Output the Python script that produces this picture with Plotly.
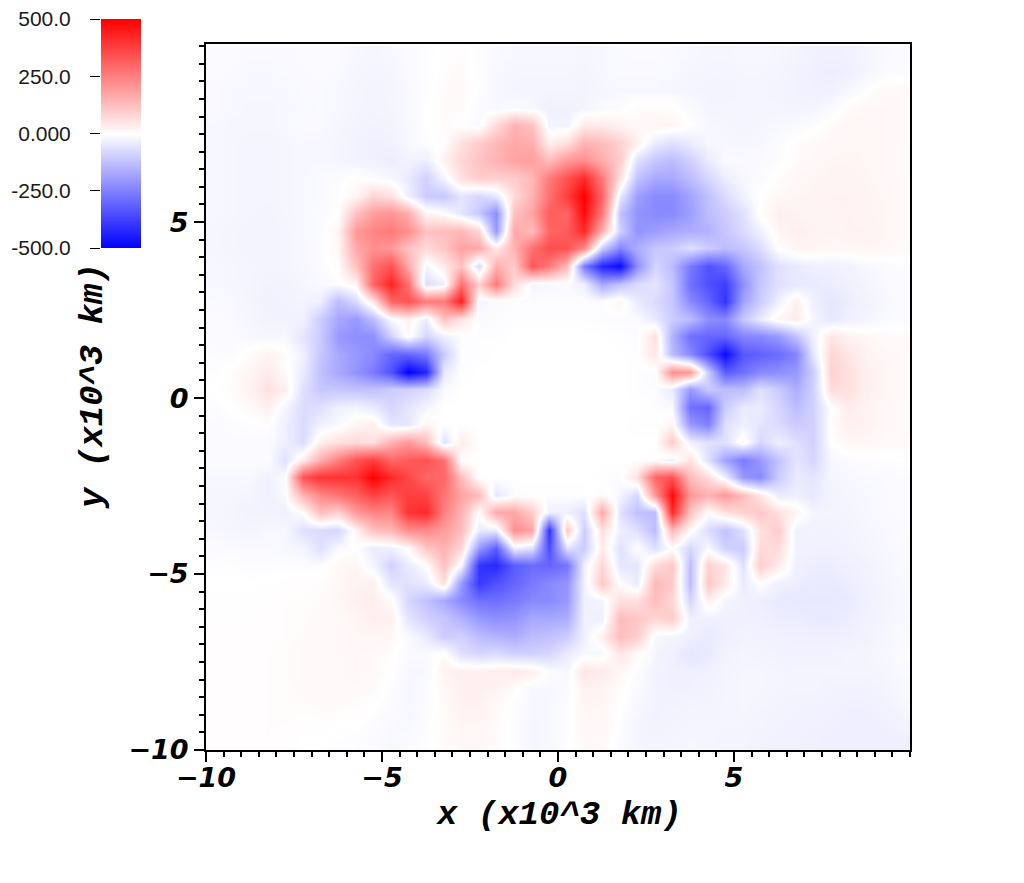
import plotly.graph_objects as go

x_centers = [-9.75, -9.25, -8.75, -8.25, -7.75, -7.25, -6.75, -6.25, -5.75, -5.25,
             -4.75, -4.25, -3.75, -3.25, -2.75, -2.25, -1.75, -1.25, -0.75, -0.25,
             0.25, 0.75, 1.25, 1.75, 2.25, 2.75, 3.25, 3.75, 4.25, 4.75,
             5.25, 5.75, 6.25, 6.75, 7.25, 7.75, 8.25, 8.75, 9.25, 9.75]
y_centers = x_centers[::-1]

# values, top row first
z_rows = [
    [-8,-10,-12,-12,-12,-10,-8,-10,-15,-18,-15,-10,-5,3,5,-5,-12,-15,-15,-15,-15,-18,-15,-12,-10,-10,-12,-15,-18,-18,-15,-15,-18,-22,-28,-30,-28,-20,-12,-8],
    [-10,-12,-15,-15,-12,-12,-10,-12,-18,-20,-18,-10,-5,5,8,-5,-15,-18,-18,-18,-18,-20,-15,-12,-12,-12,-15,-18,-20,-20,-18,-18,-20,-25,-30,-35,-32,-20,-10,-5],
    [-12,-15,-15,-15,-15,-12,-12,-15,-20,-22,-20,-12,-5,8,10,-5,-15,-20,-20,-20,-20,-22,-18,-15,-15,-15,-18,-20,-22,-22,-20,-20,-22,-25,-28,-28,-15,0,12,12],
    [-12,-15,-18,-18,-15,-15,-12,-15,-20,-22,-20,-12,0,8,5,-8,-15,-10,-15,-30,-30,-20,-12,-5,8,10,5,-10,-20,-20,-20,-20,-20,-22,-20,-10,8,15,15,12],
    [-15,-18,-18,-18,-15,-12,-12,-18,-22,-25,-22,-15,0,8,0,-10,70,150,120,-20,-25,40,40,25,10,20,20,0,-15,-18,-20,-18,-15,-12,-5,10,18,18,15,12],
    [-15,-18,-20,-20,-18,-15,-15,-20,-25,-30,-28,-15,-5,5,60,100,140,170,160,30,60,150,130,90,30,-40,-60,-40,-15,-15,-18,-15,-8,5,10,15,18,18,15,10],
    [-15,-18,-20,-20,-18,-15,-15,-20,-25,-30,-35,-25,-35,25,80,120,150,180,190,130,200,220,160,100,-60,-110,-130,-90,-40,-10,-12,-12,-5,8,15,20,20,18,15,10],
    [-15,-18,-20,-20,-18,-15,-12,-5,5,-5,-15,-40,-90,-20,60,100,90,100,140,260,340,420,260,60,-120,-170,-170,-130,-80,-35,-15,-8,5,15,20,22,22,20,15,10],
    [-15,-18,-20,-20,-18,-15,-12,-5,20,80,60,-30,-100,-110,-50,-80,-50,70,150,280,380,500,300,-40,-190,-230,-230,-180,-120,-70,-25,0,15,20,22,25,25,22,18,12],
    [-15,-18,-20,-22,-18,-15,-10,0,120,190,210,160,20,0,-50,-110,-220,120,180,320,300,480,260,-120,-210,-230,-230,-190,-130,-100,-60,5,30,25,20,22,25,22,18,12],
    [-18,-20,-22,-22,-20,-15,-10,20,200,240,260,220,120,130,140,80,-200,170,130,300,320,420,150,-90,-210,-190,-170,-160,-150,-110,-70,-30,20,30,25,22,25,25,20,12],
    [-18,-20,-22,-22,-20,-15,-8,15,170,220,200,120,70,110,180,170,40,150,280,350,340,230,-100,-240,-160,-110,-100,-60,-100,-130,-110,-70,0,20,20,15,15,18,15,10],
    [-15,-18,-20,-22,-20,-15,-8,5,120,280,340,170,-20,40,120,-80,160,100,330,260,130,-260,-430,-480,-220,-80,-130,-260,-340,-300,-170,-120,-60,-40,-30,-30,-25,-15,-10,-5],
    [-15,-18,-20,-25,-22,-18,-12,-5,20,300,430,280,-70,-30,280,90,260,70,-20,-15,-10,-30,-170,-120,-70,-50,-110,-280,-340,-380,-220,-110,-60,-45,-40,-35,-30,-20,-12,-8],
    [-12,-15,-20,-28,-25,-22,-30,-130,-70,50,300,340,260,260,440,-20,-8,-5,-5,-5,-5,-5,-5,20,-40,-70,-110,-230,-300,-400,-180,-100,-30,30,-30,-50,-35,-25,-15,-10],
    [-10,-12,-18,-25,-25,-28,-100,-170,-200,-130,-10,30,-40,120,50,-8,-5,-3,-3,-3,-3,-3,-5,-8,-8,-40,-100,-130,-220,-230,-110,-40,20,40,-20,-45,-30,-20,-12,-8],
    [-8,-10,-15,-18,-15,-50,-100,-200,-220,-220,-90,10,-80,-30,-5,-3,-3,0,0,0,0,0,0,-3,-5,60,-150,-280,-300,-300,-240,-230,-200,-120,-30,50,25,15,10,8],
    [-5,-8,8,25,5,-30,-110,-170,-200,-230,-300,-300,-260,-100,-5,-3,0,0,0,0,0,0,0,0,-3,50,-130,-230,-350,-480,-330,-310,-290,-240,-50,80,50,25,15,10],
    [-3,5,20,40,10,-40,-120,-170,-210,-260,-340,-500,-430,-40,-3,0,0,0,0,0,0,0,0,0,-3,-10,220,200,-100,-320,-280,-230,-220,-200,-100,90,60,30,20,12],
    [0,8,25,60,30,-60,-110,-110,-120,-120,-100,-90,-70,-10,0,0,0,0,0,0,0,0,0,0,-3,-5,-40,-200,-100,-130,-130,-60,-100,-160,-90,70,60,30,20,12],
    [-5,0,10,30,-20,-70,-60,-30,-20,-40,-80,-50,-20,0,0,0,0,0,0,0,0,0,0,0,0,-3,-10,-280,-300,-100,-40,-40,-80,-130,-90,0,40,25,15,10],
    [-8,-5,-3,0,-30,-70,-30,-10,20,30,-50,-50,20,0,0,0,0,0,0,0,0,0,0,0,-3,-3,20,-200,-250,-60,-30,-50,-70,-100,-90,5,30,25,15,10],
    [-10,-8,-8,-10,-30,-70,30,60,70,60,150,200,130,-60,40,0,0,0,0,0,0,0,0,0,0,0,100,-30,-60,-60,20,-80,-30,-60,-90,0,15,15,10,8],
    [-8,-8,-8,-5,-60,40,160,250,340,380,300,320,340,280,-3,0,0,0,0,0,0,0,0,0,0,-3,-30,60,-60,-180,-260,-200,-120,-50,-80,-15,-10,-5,-3,0],
    [-15,-15,-15,-30,-5,340,400,400,400,500,420,360,300,300,130,-3,0,0,0,0,0,0,-3,-5,60,300,340,130,70,-30,-200,-230,-100,-40,-50,-18,-15,-12,-10,-8],
    [-18,-18,-20,-30,-10,150,230,270,310,370,330,380,370,270,180,130,-50,-5,-3,-3,-3,-3,10,-20,-80,200,480,200,150,200,130,50,-40,-30,-45,-22,-18,-15,-12,-10],
    [-18,-20,-25,-25,-30,0,130,90,200,240,240,400,420,250,150,0,170,170,100,-30,-30,-60,170,-60,-120,-130,420,120,0,60,90,110,60,20,-20,-22,-20,-15,-12,-10],
    [-15,-18,-20,-15,-15,-60,-70,-80,20,120,140,220,230,190,130,-40,-40,220,180,-400,110,-100,60,-30,-60,-130,140,10,-70,-120,-60,60,100,-30,-25,-25,-22,-18,-15,-10],
    [-8,-10,-12,-12,-15,-20,-60,-10,0,-40,-30,5,110,150,80,-200,-320,-30,-60,-350,-60,-100,40,-60,0,-60,0,-80,-10,-90,-100,70,70,-25,-28,-28,-25,-20,-15,-12],
    [-3,-3,-5,-5,-5,-5,-5,15,20,-20,-90,-40,0,120,-10,-400,-420,-320,-290,-300,-270,-30,80,-50,-50,70,110,-130,90,50,-60,100,40,-30,-35,-35,-30,-25,-18,-12],
    [0,0,0,2,3,3,5,15,25,30,-50,-60,-40,60,-200,-390,-340,-300,-260,-230,-210,-30,110,0,-40,140,100,-130,110,40,-40,0,-30,-35,-40,-40,-35,-28,-20,-15],
    [2,2,2,3,5,5,8,15,30,35,10,-80,-120,-170,-230,-280,-280,-260,-230,-230,-200,-30,-20,60,60,130,80,-80,30,-20,-30,-35,-40,-45,-45,-45,-40,-30,-22,-15],
    [3,3,3,4,5,6,8,12,20,30,30,-50,-90,-110,-150,-200,-220,-210,-170,-170,-160,-30,-30,130,110,80,100,-30,-30,-30,-30,-30,-35,-35,-40,-40,-35,-28,-20,-15],
    [3,3,3,4,5,8,10,12,18,20,15,-10,-40,-100,-90,-130,-150,-160,-130,-120,-100,-30,30,130,100,-15,-20,-30,-40,-30,-25,-25,-28,-30,-30,-30,-30,-25,-18,-12],
    [3,3,4,5,6,10,12,12,15,12,5,-12,-10,5,-60,-80,-70,-90,-90,-80,-40,-15,-15,50,10,-20,-30,-50,-40,-25,-20,-22,-25,-25,-25,-25,-22,-20,-15,-10],
    [3,3,4,5,6,10,12,12,15,12,0,-15,-15,25,30,30,35,40,30,-5,-15,50,40,15,-5,-25,-30,-30,-28,-22,-18,-18,-20,-22,-22,-22,-22,-22,-18,-12],
    [3,3,4,5,6,8,10,12,12,8,-5,-15,-10,15,30,30,25,5,-15,-15,-10,25,22,5,-10,-25,-30,-28,-25,-20,-18,-18,-20,-22,-22,-25,-25,-25,-22,-15],
    [3,3,4,5,6,6,8,8,5,0,-8,-15,-10,10,25,25,12,-5,-15,-15,-5,20,18,0,-15,-25,-25,-22,-22,-20,-18,-20,-22,-25,-25,-28,-30,-30,-25,-18],
    [3,4,4,5,5,3,3,0,0,-5,-12,-15,-5,10,20,20,10,-5,-18,-15,-5,18,15,-5,-20,-25,-22,-20,-20,-20,-20,-22,-25,-28,-28,-30,-32,-32,-30,-25],
    [3,4,4,5,3,0,0,-3,-5,-8,-15,-10,-5,8,15,15,8,-5,-18,-15,-3,15,12,-8,-20,-22,-20,-18,-20,-22,-22,-25,-28,-28,-30,-32,-32,-32,-32,-32],
]
assert all(len(r) == 40 for r in z_rows) and len(z_rows) == 40

scale_vals = [-500, -250, 0, 250, 500]
scale_labels = ["-500.0", "-250.0", "0.000", "250.0", "500.0"]
x_ticks = [-10, -5, 0, 5]

# the page body has an 8px margin, so the figure is 16px smaller than the window
OFF = 8
W, H = 1008, 867
colors = [[0, "#0000ff"], [0.5, "#ffffff"], [1, "#ff0000"]]
tick_font = dict(family="DejaVu Sans", size=27, color="black", weight="bold", style="italic")
title_font = dict(family="Liberation Mono", size=34, color="black", weight="bold", style="italic")


def fx(px):
    return (px - OFF) / W


def fy(py):
    return 1 - (py - OFF) / H


fig = go.Figure()
fig.add_trace(go.Heatmap(
    x=x_centers, y=y_centers[::-1], z=z_rows[::-1],
    zmin=-500, zmax=500, colorscale=colors, zsmooth="best",
    showscale=False, hoverinfo="skip",
))
# the colour key sits on its own little axes so its labels can go on the left
fig.add_trace(go.Heatmap(
    x=[0, 1], y=scale_vals, z=[[v, v] for v in scale_vals],
    zmin=-500, zmax=500, colorscale=colors, zsmooth="best",
    showscale=False, hoverinfo="skip", xaxis="x2", yaxis="y2",
))


def main_axis(domain):
    return dict(
        domain=domain, tickmode="array", tickvals=x_ticks, ticks="outside",
        ticklen=10, tickwidth=2, tickcolor="black", tickfont=tick_font,
        showgrid=False, zeroline=False, showline=True, linecolor="black",
        linewidth=2, mirror=True, automargin=False,
        minor=dict(dtick=0.5, tick0=0, ticks="outside", ticklen=5, tickwidth=2,
                   tickcolor="black", showgrid=False),
    )


fig.update_layout(
    width=W, height=H, margin=dict(l=0, r=0, t=0, b=0, autoexpand=False), autosize=False,
    paper_bgcolor="white", plot_bgcolor="white", showlegend=False,
    xaxis=dict(main_axis([fx(206), fx(910)]), range=[-10, 10], anchor="y", ticklabelstandoff=-7),
    yaxis=dict(main_axis([fy(750), fy(44)]), range=[-10, 10.06], anchor="x"),
    xaxis2=dict(domain=[fx(101), fx(141)], range=[0, 1], visible=False, anchor="y2", automargin=False),
    yaxis2=dict(
        domain=[fy(248), fy(19)], range=[-500, 500], anchor="x2", automargin=False,
        tickmode="array", tickvals=scale_vals, ticktext=scale_labels,
        ticks="outside", ticklen=10, tickwidth=1, tickcolor="black",
        tickfont=dict(family="Liberation Sans", size=21, color="#1a1a1a"),
        ticklabelstandoff=15, ticklabeloverflow="allow", showgrid=False, zeroline=False, showline=False,
    ),
    annotations=[
        dict(text="x (x10^3 km)", xref="paper", yref="paper", x=fx(559), y=fy(815),
             showarrow=False, font=title_font, xanchor="center", yanchor="middle"),
        dict(text="y (x10^3 km)", xref="paper", yref="paper", x=fx(93), y=fy(386),
             showarrow=False, font=title_font, textangle=-90, xanchor="center", yanchor="middle"),
    ],
)

fig.write_html("out.html")
